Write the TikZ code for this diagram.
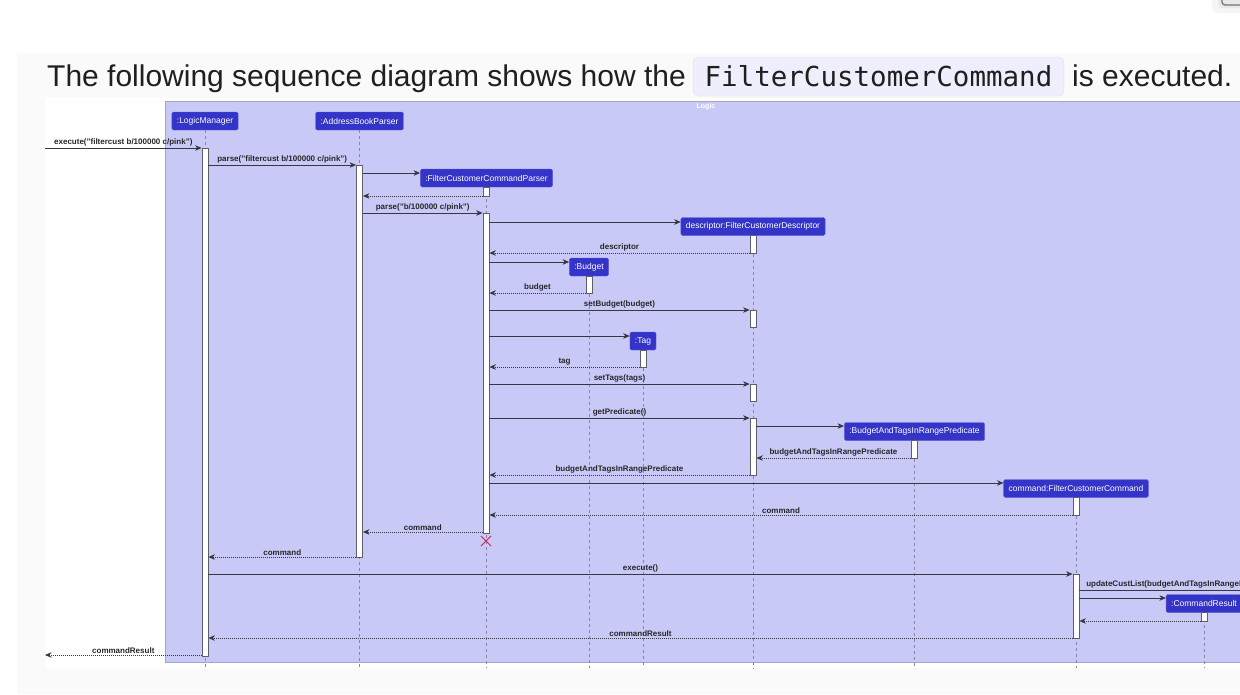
\documentclass[tikz,border=0pt]{standalone}
\usepackage{fontspec}
\setmainfont{Liberation Sans}
\setmonofont{DejaVu Sans Mono}
\usetikzlibrary{arrows.meta}
\usetikzlibrary{shapes.misc}
\definecolor{cardc}{RGB}{250,250,250}
\definecolor{framefill}{RGB}{201,201,248}
\definecolor{framedraw}{RGB}{165,165,200}
\definecolor{partfill}{RGB}{52,52,200}
\definecolor{lifec}{RGB}{135,135,165}
\definecolor{actdraw}{RGB}{95,95,105}
\definecolor{msgc}{RGB}{55,55,65}
\definecolor{codefill}{RGB}{238,238,252}
\definecolor{codedraw}{RGB}{224,224,240}
\definecolor{crossc}{RGB}{214,30,80}

\begin{document}
\begin{tikzpicture}[x=1pt,y=-1pt,
		part/.style={fill=partfill,draw=partfill!80!white,rounded corners=1.5pt,text=white,font=\fontsize{8.5}{10}\selectfont,minimum height=18,inner xsep=5pt,inner ysep=0pt},
		life/.style={draw=lifec,line width=0.6pt,dash pattern=on 3pt off 3pt},
		act/.style={draw=actdraw,fill=white,line width=0.8pt,minimum width=6,inner sep=0pt},
		msg/.style={draw=msgc,line width=0.7pt,-{Stealth[length=6.5pt,width=5.5pt,inset=2pt]}},
		ret/.style={msg,dash pattern=on 1pt off 1pt},
		lbl/.style={midway,above,inner sep=1.5pt,text=black!85,font=\fontsize{8}{9.6}\selectfont\bfseries}]
		\useasboundingbox (0,0) rectangle (1240,694);
		\fill[cardc] (17,53) rectangle (1240,694);
		\fill[white] (45,98) rectangle (1240,668);
		\fill[black!4,rounded corners=6pt] (1212,-10) rectangle (1260,13); % corner widget
		\fill[black!9,rounded corners=4pt] (1218,-10) rectangle (1260,8);
		\draw[black!55,line width=1.2pt,rounded corners=3pt] (1222,-10) rectangle (1260,5);

		% heading
		\node[anchor=base west,inner sep=0pt,text=black!88,font=\fontsize{30}{36}\selectfont] (head) at (47,86) {The following sequence diagram shows how the};
		\node[fill=codefill,draw=codedraw,rounded corners=5pt,minimum height=39,inner xsep=11.5pt,text=black!88,font=\ttfamily\fontsize{27.5}{33}\selectfont] (code) at (878.5,76.5) {FilterCustomerCommand};
		\node[anchor=base west,inner sep=0pt,text=black!88,font=\fontsize{30}{36}\selectfont] (tail) at (1072,86) {is executed.};

		% frame
		\draw[fill=framefill,draw=framedraw,line width=0.8pt] (165,101) rectangle (1250,662);
		\node[text=white,font=\fontsize{7}{8}\selectfont\bfseries] (logic) at (706,106.5) {Logic};

		% participants
		\node[part] (lm) at (205,121) {:LogicManager};
		\node[part] (abp) at (359.5,121) {:AddressBookParser};
		\node[part] (fp) at (486.5,178) {:FilterCustomerCommandParser};
		\node[part] (desc) at (753,226.5) {descriptor:FilterCustomerDescriptor};
		\node[part] (bud) at (589,267) {:Budget};
		\node[part] (tag) at (643,341) {:Tag};
		\node[part] (pred) at (914.5,431.5) {:BudgetAndTagsInRangePredicate};
		\node[part] (cmd) at (1076,488.5) {command:FilterCustomerCommand};
		\node[part] (cr) at (1204,603.5) {:CommandResult};
		\foreach \p in {lm,abp,fp,desc,bud,tag,pred,cmd,cr}
			\draw[life] (\p.south) -- (\p.south |- 0,668);

		% activations
		\node[act,minimum height=508] (lmA) at (205,402) {};
		\node[act,minimum height=392] (abpA) at (359.5,361) {};
		\node[act,minimum height=9] (fpA1) at (486,191.5) {};
		\node[act,minimum height=320] (fpA2) at (486,373) {};
		\node[act,minimum height=18] (dA1) at (753,244) {};
		\node[act,minimum height=17] (dA2) at (753,318.5) {};
		\node[act,minimum height=17] (dA3) at (753,392.5) {};
		\node[act,minimum height=57] (dA4) at (753,446.5) {};
		\node[act,minimum height=17] (bA) at (589,284.5) {};
		\node[act,minimum height=17] (tA) at (643,358.5) {};
		\node[act,minimum height=18] (pA) at (914,449) {};
		\node[act,minimum height=18] (cA1) at (1076,506) {};
		\node[act,minimum height=64] (cA2) at (1076,606) {};
		\node[act,minimum height=9] (crA) at (1204,616.5) {};
		\node[draw=crossc,cross out,line width=1pt,minimum size=9,inner sep=0pt] (fpX) at (486,541) {}; % destroyed

		% messages
		\coordinate (inL) at (45,148);
		\coordinate (outL) at (45,655);
		\coordinate (outR) at (1250,590);
		\draw[msg] (inL) -- (lmA.west |- inL) node[lbl] {execute("filtercust b/100000 c/pink")};
		\draw[msg] (lmA.east |- 0,165) -- (abpA.west |- 0,165) node[lbl] {parse("filtercust b/100000 c/pink")};
		\draw[msg] (abpA.east |- 0,173) -- (fp.west |- 0,173);
		\draw[ret] (fpA1.west |- 0,196) -- (abpA.east |- 0,196);
		\draw[msg] (abpA.east |- 0,213) -- (fpA2.west |- 0,213) node[lbl] {parse("b/100000 c/pink")};
		\draw[msg] (fpA2.east |- 0,222) -- (desc.west |- 0,222);
		\draw[ret] (dA1.west |- 0,253) -- (fpA2.east |- 0,253) node[lbl] {descriptor};
		\draw[msg] (fpA2.east |- 0,262) -- (bud.west |- 0,262);
		\draw[ret] (bA.west |- 0,293) -- (fpA2.east |- 0,293) node[lbl] {budget};
		\draw[msg] (fpA2.east |- 0,310) -- (dA2.west |- 0,310) node[lbl] {setBudget(budget)};
		\draw[msg] (fpA2.east |- 0,336) -- (tag.west |- 0,336);
		\draw[ret] (tA.west |- 0,367) -- (fpA2.east |- 0,367) node[lbl] {tag};
		\draw[msg] (fpA2.east |- 0,384) -- (dA3.west |- 0,384) node[lbl] {setTags(tags)};
		\draw[msg] (fpA2.east |- 0,418) -- (dA4.west |- 0,418) node[lbl] {getPredicate()};
		\draw[msg] (dA4.east |- 0,426) -- (pred.west |- 0,426);
		\draw[ret] (pA.west |- 0,458) -- (dA4.east |- 0,458) node[lbl] {budgetAndTagsInRangePredicate};
		\draw[ret] (dA4.west |- 0,475) -- (fpA2.east |- 0,475) node[lbl] {budgetAndTagsInRangePredicate};
		\draw[msg] (fpA2.east |- 0,483) -- (cmd.west |- 0,483);
		\draw[ret] (cA1.west |- 0,515) -- (fpA2.east |- 0,515) node[lbl] {command};
		\draw[ret] (fpA2.west |- 0,532) -- (abpA.east |- 0,532) node[lbl] {command};
		\draw[ret] (abpA.west |- 0,557) -- (lmA.east |- 0,557) node[lbl] {command};
		\draw[msg] (lmA.east |- 0,574) -- (cA2.west |- 0,574) node[lbl] {execute()};
		\draw[msg] (cA2.east |- outR) -- (outR) node[lbl,pos=0,anchor=south west,xshift=5pt] {updateCustList(budgetAndTagsInRangePredicate)};
		\draw[msg] (cA2.east |- 0,598) -- (cr.west |- 0,598);
		\draw[ret] (crA.west |- 0,621) -- (cA2.east |- 0,621);
		\draw[ret] (cA2.west |- 0,638) -- (lmA.east |- 0,638) node[lbl] {commandResult};
		\draw[ret] (lmA.west |- outL) -- (outL) node[lbl] {commandResult};
\end{tikzpicture}
\end{document}
